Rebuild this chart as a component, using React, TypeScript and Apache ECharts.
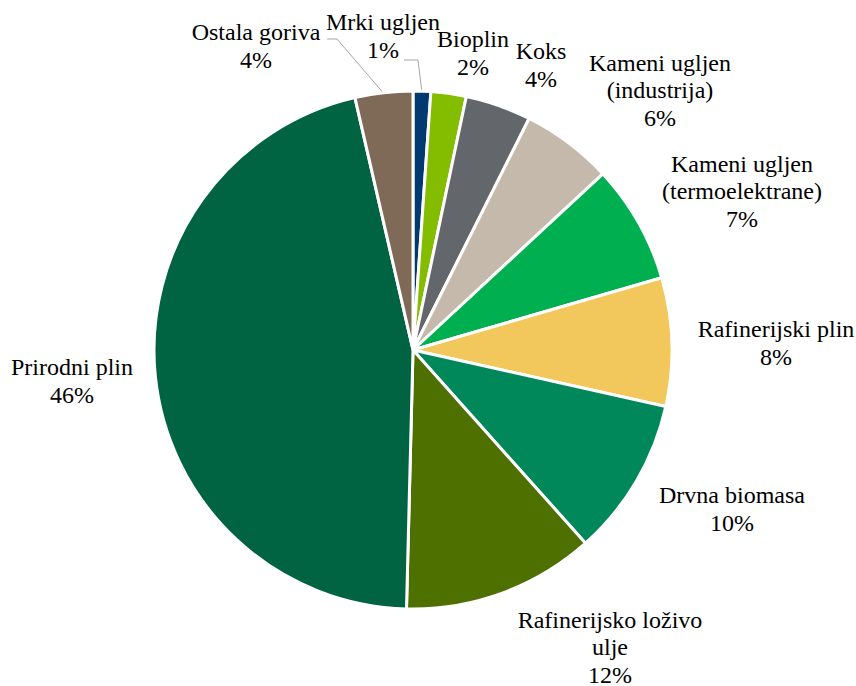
import { useEffect, useRef } from "react";
import * as echarts from "echarts";

// Data
const CATEGORIES = [
  "Mrki ugljen",
  "Bioplin",
  "Koks",
  "Kameni ugljen\n(industrija)",
  "Kameni ugljen\n(termoelektrane)",
  "Rafinerijski plin",
  "Drvna biomasa",
  "Rafinerijsko loživo\nulje",
  "Prirodni plin",
  "Ostala goriva",
];
const VALUES = [1.1, 2.2, 4.1, 5.7, 7.4, 8.0, 9.9, 12.0, 46.0, 3.6];

// Styles / layout
const COLORS = [
  "#003A70",
  "#84BD00",
  "#63666A",
  "#C5B9AC",
  "#00B050",
  "#F2C75C",
  "#00875A",
  "#4E7000",
  "#006341",
  "#7F6A58",
];
const FONT = "Liberation Serif";
const CX = 413;
const CY = 350;
const R = 259;
// label block centre offsets from pie centre
const LABEL_OFFSETS: number[][] = [
  [-30, -314],
  [60, -297],
  [128, -285],
  [247, -260],
  [329, -159],
  [363, -7],
  [319, 159],
  [197, 297],
  [-341, 31],
  [-157, -304],
];
// leader line start (relative to label centre) and elbow length; null = no leader
const LEADERS: (number[] | null)[] = [
  [21, 24, 14],
  null,
  null,
  null,
  null,
  null,
  null,
  null,
  null,
  [71, -7, 10],
];

export default function App() {
  const ref = useRef<HTMLDivElement>(null);
  useEffect(() => {
    if (!ref.current) return;
    const chart = echarts.init(ref.current, null, { renderer: "svg" });
    const total = VALUES.reduce((a, b) => a + b, 0);
    const midAngles: number[] = [];
    let cum = 0;
    VALUES.forEach((v) => {
      const mid = (cum + v / 2) / total;
      midAngles.push(((90 - mid * 360) * Math.PI) / 180);
      cum += v;
    });
    chart.setOption({
      animation: false,
      backgroundColor: "#ffffff",
      series: [
        {
          type: "pie",
          center: [CX, CY],
          radius: R,
          startAngle: 90,
          clockwise: true,
          avoidLabelOverlap: false,
          itemStyle: { borderColor: "#ffffff", borderWidth: 3 },
          emphasis: { disabled: true },
          label: {
            show: true,
            position: "outside",
            color: "#000000",
            fontFamily: FONT,
            fontSize: 24,
            lineHeight: 27.5,
            align: "center",
            formatter: (p: any) => `${p.name}\n${Math.round(p.percent)}%`,
          },
          labelLine: {
            show: true,
            lineStyle: { color: "#A6A6A6", width: 1 },
          },
          labelLayout: (params: any) => {
            const i = params.dataIndex;
            const off = LABEL_OFFSETS[i];
            const lx = CX + off[0];
            const ly = CY + off[1];
            const res: any = { x: lx, y: ly, align: "center", verticalAlign: "middle" };
            const ld = LEADERS[i];
            if (ld) {
              const sx = lx + ld[0];
              const sy = ly + ld[1];
              const ex = CX + (R - 1) * Math.cos(midAngles[i]);
              const ey = CY - (R - 1) * Math.sin(midAngles[i]);
              res.labelLinePoints = [[sx, sy], [sx + ld[2], sy], [ex, ey]];
            }
            return res;
          },
          data: CATEGORIES.map((name, i) => ({
            name,
            value: VALUES[i],
            itemStyle: { color: COLORS[i] },
            labelLine: { show: LEADERS[i] !== null },
          })),
        },
      ],
    });
    return () => chart.dispose();
  }, []);
  return (
    <div ref={ref} style={{ position: "fixed", left: 0, top: 0, width: 856, height: 686 }} />
  );
}
